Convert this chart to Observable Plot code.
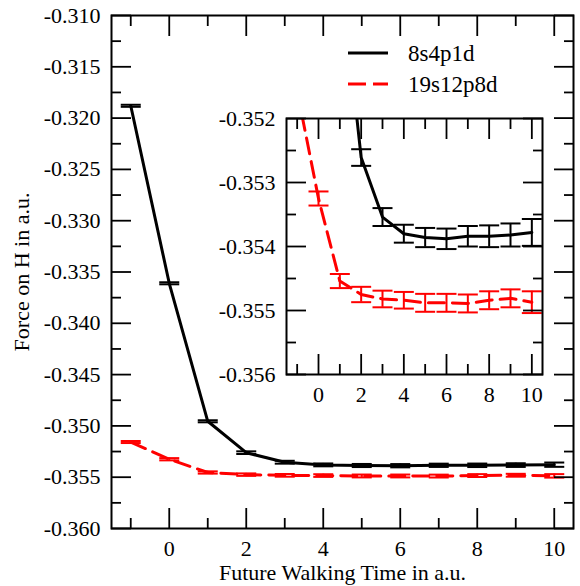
<!DOCTYPE html>
<html><head><meta charset="utf-8">
<script src="https://cdn.jsdelivr.net/npm/d3@7"></script>
<script src="https://cdn.jsdelivr.net/npm/@observablehq/plot@0.6"></script>
<style>
body{margin:0;background:#fff;}
#wrap{position:relative;width:580px;height:586px;overflow:hidden;background:#fff;}
#wrap > svg{position:absolute;}
</style></head><body><div id="wrap"></div>
<script>
// ---- data ----
const times = [-1, 0, 1, 2, 3, 4, 5, 6, 7, 8, 9, 10];
const force8s4p1d = [-0.31880, -0.33610, -0.34955, -0.35261, -0.35354, -0.35380, -0.35386, -0.35388, -0.35384, -0.35384, -0.35382, -0.35378];
const err8s4p1d   = [0.00010, 0.00010, 0.00010, 0.00013, 0.00014, 0.00014, 0.00015, 0.00016, 0.00016, 0.00017, 0.00018, 0.00021];
const force19s12p8d = [-0.35157, -0.35325, -0.35454, -0.35475, -0.35482, -0.35484, -0.35488, -0.35488, -0.35489, -0.35484, -0.35481, -0.35487];
const err19s12p8d   = [0.00010, 0.00011, 0.00011, 0.00012, 0.00013, 0.00013, 0.00014, 0.00014, 0.00014, 0.00014, 0.00014, 0.00017];
const seriesNames = ["8s4p1d", "19s12p8d"];
const seriesColors = ["#000000", "#ff0000"];
const xMajor = [0, 2, 4, 6, 8, 10];
const xMinor = [-1, 1, 3, 5, 7, 9];
const mainYMajor = [-0.360, -0.355, -0.350, -0.345, -0.340, -0.335, -0.330, -0.325, -0.320, -0.315, -0.310];
const mainYMinor = [-0.3575, -0.3525, -0.3475, -0.3425, -0.3375, -0.3325, -0.3275, -0.3225, -0.3175, -0.3125];
const insetYMajor = [-0.356, -0.355, -0.354, -0.353, -0.352];
const insetYMinor = [-0.3555, -0.3545, -0.3535, -0.3525];
const xTitle = "Future Walking Time in a.u.";
const yTitle = "Force on H in a.u.";

const rows = [
  ...times.map((t, i) => ({t, f: force8s4p1d[i], e: err8s4p1d[i], s: seriesNames[0]})),
  ...times.map((t, i) => ({t, f: force19s12p8d[i], e: err19s12p8d[i], s: seriesNames[1]}))
];
const FONT = "'Liberation Serif', 'Times New Roman', serif";
const cap = {draw(ctx) { ctx.moveTo(-10, 0); ctx.lineTo(10, 0); }};

function tickMarks(yMajor, yMinor) {
  const o = {label: null, tickFormat: () => "", strokeWidth: 1.8};
  return [
    Plot.axisX(xMajor, {...o, anchor: "bottom", tickSize: -20}),
    Plot.axisX(xMinor, {...o, anchor: "bottom", tickSize: -10}),
    Plot.axisX(xMajor, {...o, anchor: "top", tickSize: -20}),
    Plot.axisX(xMinor, {...o, anchor: "top", tickSize: -10}),
    Plot.axisY(yMajor, {...o, anchor: "left", tickSize: -20}),
    Plot.axisY(yMinor, {...o, anchor: "left", tickSize: -10}),
    Plot.axisY(yMajor, {...o, anchor: "right", tickSize: -20}),
    Plot.axisY(yMinor, {...o, anchor: "right", tickSize: -10}),
    Plot.axisX(xMajor, {anchor: "bottom", tickSize: 0, tickPadding: 12, tickFormat: d => String(d), label: null, fontFamily: FONT, fontSize: 22}),
    Plot.axisY(yMajor, {anchor: "left", tickSize: 0, tickPadding: 11, tickFormat: d => d.toFixed(3), label: null, fontFamily: FONT, fontSize: 22})
  ];
}
function dataMarks(clip) {
  return [
    Plot.ruleX(rows, {x: "t", y1: d => d.f - d.e, y2: d => d.f + d.e, stroke: "s", strokeWidth: 2, clip}),
    Plot.dot(rows, {x: "t", y: d => d.f + d.e, symbol: cap, r: 5, fill: "none", stroke: "s", strokeWidth: 2, clip}),
    Plot.dot(rows, {x: "t", y: d => d.f - d.e, symbol: cap, r: 5, fill: "none", stroke: "s", strokeWidth: 2, clip}),
    Plot.line(rows.filter(d => d.s === seriesNames[0]), {x: "t", y: "f", stroke: "s", strokeWidth: 3, clip}),
    Plot.line(rows.filter(d => d.s === seriesNames[1]), {x: "t", y: "f", stroke: "s", strokeWidth: 3, strokeDasharray: "16,8", clip})
  ];
}
const colorScale = {domain: seriesNames, range: seriesColors};
const style = {background: "transparent", fontFamily: FONT, fontSize: "22px", color: "#000", overflow: "visible"};

const main = Plot.plot({
  width: 580, height: 586,
  marginLeft: 111, marginRight: 7, marginTop: 15, marginBottom: 58,
  style,
  x: {domain: [-1.5, 10.5]},
  y: {domain: [-0.360, -0.310]},
  color: colorScale,
  marks: [
    ...dataMarks(false),
    ...tickMarks(mainYMajor, mainYMinor),
    Plot.frame({stroke: "#000", strokeWidth: 2}),
    Plot.text([yTitle], {text: d => d, frameAnchor: "left", dx: -90, rotate: -90, textAnchor: "middle", lineAnchor: "middle", fontSize: 22, fontFamily: FONT}),
    Plot.text([xTitle], {text: d => d, frameAnchor: "bottom", dy: 44, textAnchor: "middle", lineAnchor: "middle", fontSize: 22, fontFamily: FONT})
  ]
});
main.style.left = "0px"; main.style.top = "0px";

const inset = Plot.plot({
  width: 334, height: 311,
  marginLeft: 70, marginRight: 8, marginTop: 13, marginBottom: 42,
  style,
  x: {domain: [-1.5, 10.5]},
  y: {domain: [-0.356, -0.352]},
  color: colorScale,
  marks: [
    Plot.frame({fill: "#fff", stroke: "none"}),
    ...dataMarks(true),
    ...tickMarks(insetYMajor, insetYMinor),
    Plot.frame({stroke: "#000", strokeWidth: 2})
  ]
});
inset.style.left = "216px"; inset.style.top = "105px";

const wrap = document.getElementById("wrap");
wrap.appendChild(main);
wrap.appendChild(inset);

// legend
const leg = d3.select(wrap).append("svg")
  .attr("width", 220).attr("height", 70)
  .style("left", "340px").style("top", "35px")
  .style("font-family", FONT).style("font-size", "23px");
seriesNames.forEach((name, i) => {
  const y = 18 + i * 31;
  leg.append("line").attr("x1", 8).attr("x2", 48).attr("y1", y).attr("y2", y)
    .attr("stroke", seriesColors[i]).attr("stroke-width", 3)
    .attr("stroke-dasharray", i === 1 ? "18,7" : null);
  leg.append("text").attr("x", 68).attr("y", y).attr("dy", "0.33em").attr("fill", "#000").text(name);
});
</script></body></html>
